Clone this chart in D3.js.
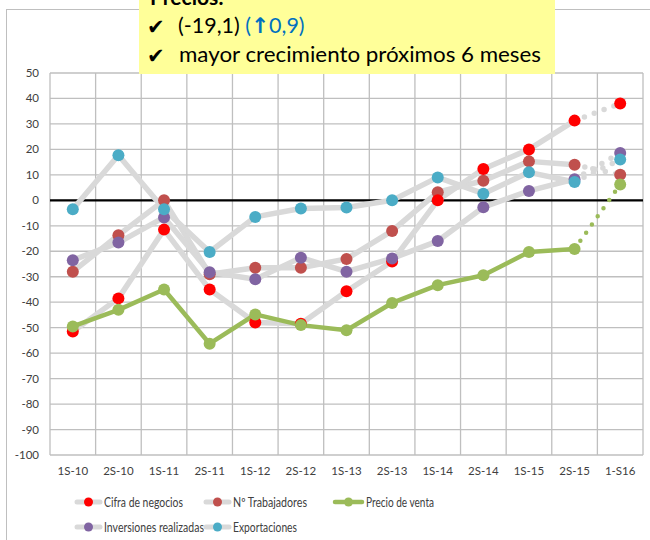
<!DOCTYPE html>
<html>
<head>
<meta charset="utf-8">
<script src="https://cdn.jsdelivr.net/npm/d3@7"></script>
<style>
  html, body { margin: 0; padding: 0; background: #fff; }
  svg { display: block; font-family: Lato, "Open Sans", sans-serif; }
</style>
</head>
<body>
<svg id="chart" width="650" height="540"></svg>
<script>
const categories = ["1S-10", "2S-10", "1S-11", "2S-11", "1S-12", "2S-12", "1S-13", "2S-13", "1S-14", "2S-14", "1S-15", "2S-15", "1-S16"];

const cifraNegocios = [-51.5, -38.5, -11.5, -35, -48, -48.5, -35.7, -24, 0, 12.3, 20, 31.3, 38];
const trabajadores = [-28, -13.7, 0, -29, -26.5, -26.5, -23, -12, 3.2, 7.7, 15.3, 14, 10];
const precioVenta = [-49.5, -43, -35, -56.3, -44.8, -49, -51, -40.3, -33.3, -29.4, -20.3, -19.1, 6.2];
const inversiones = [-23.5, -16.6, -6.7, -28.2, -31, -22.5, -28, -22.8, -16, -2.7, 3.7, 8.3, 18.6];
const exportaciones = [-3.5, 17.7, -3.5, -20.3, -6.5, -3.2, -2.8, 0, 9, 2.6, 11, 7.2, 16];

const yTicks = [50, 40, 30, 20, 10, 0, -10, -20, -30, -40, -50, -60, -70, -80, -90, -100];

// orden de dibujo (el último queda encima)
const series = [
  { name: "Nº Trabajadores", values: trabajadores, marker: "#C0504D", line: "#D9D9D9", width: 5.5, r: 6 },
  { name: "Cifra de negocios", values: cifraNegocios, marker: "#FF0000", line: "#D9D9D9", width: 5.5, r: 6 },
  { name: "Precio de venta", values: precioVenta, marker: "#9BBB59", line: "#9BBB59", width: 4.5, r: 6, green: true },
  { name: "Inversiones realizadas", values: inversiones, marker: "#8064A2", line: "#D9D9D9", width: 5.5, r: 6 },
  { name: "Exportaciones", values: exportaciones, marker: "#4BACC6", line: "#D9D9D9", width: 5.5, r: 6 }
];

const legendItems = [
  { name: "Cifra de negocios", x: 77, y: 502, textW: 79 },
  { name: "Nº Trabajadores", x: 206, y: 502, textW: 74 },
  { name: "Precio de venta", x: 335, y: 502, textW: 68 },
  { name: "Inversiones realizadas", x: 77, y: 527, textW: 100 },
  { name: "Exportaciones", x: 206, y: 527, textW: 64 }
];

const svg = d3.select("#chart");
const plot = { left: 50, right: 643, top: 73, bottom: 455 };

const x = d3.scaleBand()
  .domain(categories)
  .range([plot.left, plot.right])
  .padding(0);

const y = d3.scaleLinear()
  .domain([-100, 50])
  .range([plot.bottom, plot.top]);

const cx = c => x(c) + x.bandwidth() / 2;

// marco exterior del gráfico
svg.append("rect")
  .attr("x", 6.5).attr("y", 9.5)
  .attr("width", 700).attr("height", 600)
  .attr("fill", "#fff")
  .attr("stroke", "#BFBFBF");

// rejilla
const grid = svg.append("g").attr("stroke", "#BFBFBF").attr("stroke-width", 1.3);

grid.selectAll("line.h")
  .data(yTicks)
  .join("line")
  .attr("x1", plot.left).attr("x2", plot.right)
  .attr("y1", d => y(d)).attr("y2", d => y(d));

const vPos = categories.map(c => x(c)).concat([plot.right]);
grid.selectAll("line.v")
  .data(vPos)
  .join("line")
  .attr("x1", d => d).attr("x2", d => d)
  .attr("y1", plot.top).attr("y2", plot.bottom);

// línea del cero
svg.append("line")
  .attr("x1", plot.left).attr("x2", plot.right)
  .attr("y1", y(0)).attr("y2", y(0))
  .attr("stroke", "#000")
  .attr("stroke-width", 2.2);

// etiquetas de ejes
svg.append("g")
  .selectAll("text")
  .data(yTicks)
  .join("text")
  .attr("x", 39)
  .attr("y", d => y(d) + 4)
  .attr("text-anchor", "end")
  .attr("font-size", 11.5)
  .attr("fill", "#404040")
  .text(d => d);

svg.append("g")
  .selectAll("text")
  .data(categories)
  .join("text")
  .attr("x", d => cx(d))
  .attr("y", 475)
  .attr("text-anchor", "middle")
  .attr("font-size", 11.5)
  .attr("fill", "#404040")
  .text(d => d);

const line = d3.line()
  .x((d, i) => cx(categories[i]))
  .y(d => y(d));

const last = categories.length - 1;

// líneas: continuas hasta 2S-15, punteadas hasta 1-S16
series.forEach(s => {
  const g = svg.append("g");
  const solid = s.values.slice(0, last);
  g.append("path")
    .attr("d", line(solid))
    .attr("fill", "none")
    .attr("stroke", s.line)
    .attr("stroke-width", s.width)
    .attr("stroke-linejoin", "round");

  g.append("line")
    .attr("x1", cx(categories[last - 1])).attr("y1", y(s.values[last - 1]))
    .attr("x2", cx(categories[last])).attr("y2", y(s.values[last]))
    .attr("stroke", s.line)
    .attr("stroke-width", s.width)
    .attr("stroke-linecap", "round")
    .attr("stroke-dasharray", s.green ? "0 10" : "0 10.5");
});

// marcadores
series.forEach(s => {
  svg.append("g")
    .selectAll("circle")
    .data(s.values)
    .join("circle")
    .attr("cx", (d, i) => cx(categories[i]))
    .attr("cy", d => y(d))
    .attr("r", s.r)
    .attr("fill", s.marker);
});

// leyenda
const legend = svg.append("g");
legendItems.forEach(item => {
  const s = series.find(d => d.name === item.name);
  const w = s.green ? 27 : 23;
  legend.append("line")
    .attr("x1", item.x).attr("x2", item.x + w)
    .attr("y1", item.y).attr("y2", item.y)
    .attr("stroke", s.line)
    .attr("stroke-width", s.green ? 4.5 : 5)
    .attr("stroke-linecap", "round");
  legend.append("circle")
    .attr("cx", item.x + w / 2).attr("cy", item.y)
    .attr("r", 4.5)
    .attr("fill", s.marker);
  legend.append("text")
    .attr("x", item.x + w + 4)
    .attr("y", item.y + 5)
    .attr("font-size", 13)
    .attr("fill", "#404040")
    .attr("textLength", item.textW)
    .attr("lengthAdjust", "spacingAndGlyphs")
    .text(item.name);
});

// cuadro de anotación
const note = svg.append("g");
note.append("rect")
  .attr("x", 139).attr("y", 0)
  .attr("width", 416).attr("height", 74)
  .attr("fill", "#FFFF99");

note.append("text")
  .attr("x", 150).attr("y", 5)
  .attr("font-size", 21)
  .attr("font-weight", "bold")
  .attr("fill", "#000")
  .text("Precios:");

const check = (yy) => note.append("text")
  .attr("x", 147).attr("y", yy)
  .attr("font-family", "DejaVu Sans")
  .attr("font-size", 21)
  .attr("fill", "#000")
  .text("✔");

check(34);
check(63);

const l1 = note.append("text")
  .attr("x", 178).attr("y", 33)
  .attr("font-size", 21.5)
  .attr("fill", "#000");
l1.append("tspan").text("(-19,1) ");
l1.append("tspan").attr("fill", "#0070C0").text("(");
l1.append("tspan").attr("fill", "#0070C0").attr("font-family", "DejaVu Sans").attr("font-weight", "bold").text("↑");
l1.append("tspan").attr("fill", "#0070C0").text("0,9)");

note.append("text")
  .attr("x", 179).attr("y", 62)
  .attr("font-size", 21.5)
  .attr("fill", "#000")
  .attr("textLength", 362)
  .attr("lengthAdjust", "spacingAndGlyphs")
  .text("mayor crecimiento próximos 6 meses");
</script>
</body>
</html>
